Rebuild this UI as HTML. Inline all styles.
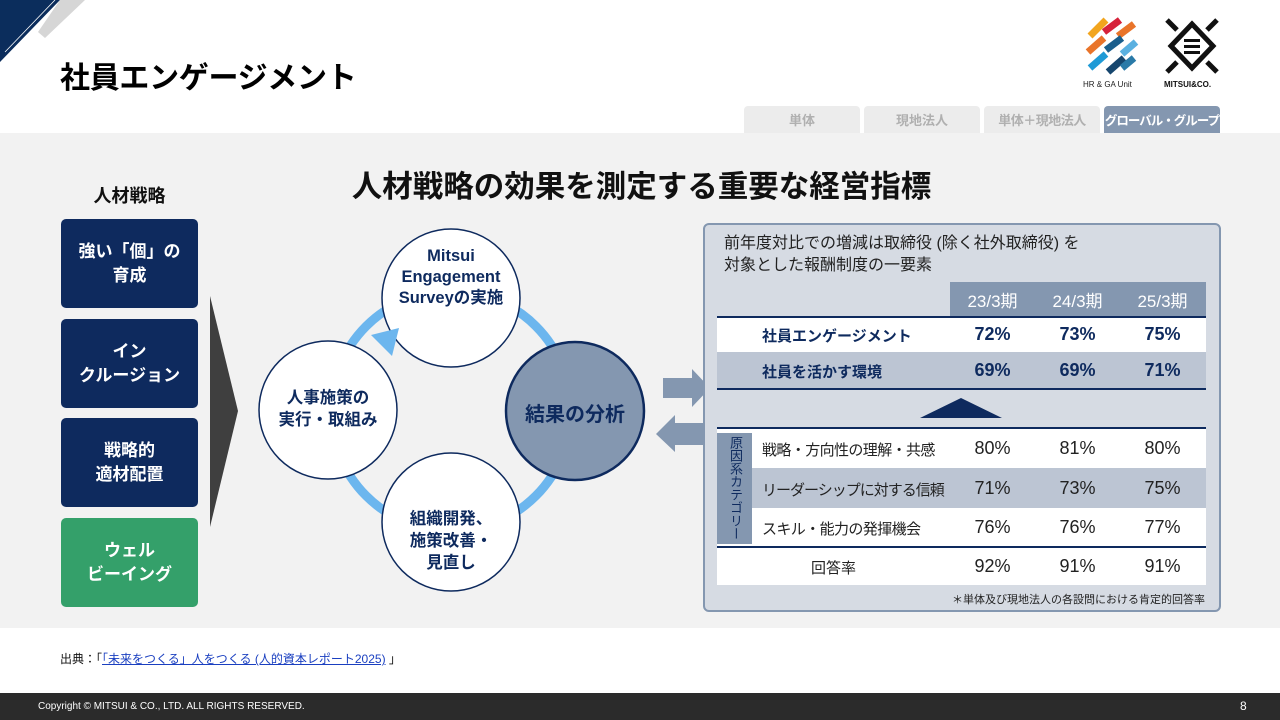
<!DOCTYPE html>
<html><head><meta charset="utf-8"><style>
*{margin:0;padding:0;box-sizing:border-box}
body{width:1280px;height:720px;position:relative;overflow:hidden;background:#fff;font-family:"Liberation Sans","Noto Sans CJK JP",sans-serif}
.a{position:absolute}
.c{display:flex;align-items:center;justify-content:center;text-align:center}
.box{position:absolute;left:61px;width:137px;height:89px;border-radius:5px;background:#0e2a5e;color:#fff;font-weight:bold;font-size:17px;line-height:24px}
.tab{position:absolute;top:106px;width:116px;height:27px;background:#ececec;color:#b0b0b0;font-weight:bold;font-size:13px;border-radius:4px 4px 0 0;white-space:nowrap}
.t{position:absolute;left:717px;width:489px;font-size:17px}
.cell{position:absolute;width:85px;text-align:center}
</style></head><body>
<svg class="a" style="left:0;top:0" width="90" height="70"><polygon points="0,0 60,0 0,62" fill="#0b2d5c"/><polygon points="60,0 85,0 45,38 38,32" fill="#d6d6d6"/><line x1="55" y1="0" x2="5" y2="52" stroke="#fff" stroke-width="0.8"/></svg>
<div class="a" style="left:60px;top:53px;font-size:30px;font-weight:bold;color:#000;letter-spacing:-0.3px">社員エンゲージメント</div>
<svg class="a" style="left:1082px;top:16px" width="60" height="60"><g stroke-width="7" stroke-linecap="butt"><line x1="8" y1="20" x2="24" y2="4" stroke="#f2a51e"/><line x1="22" y1="16" x2="38" y2="4" stroke="#d6213a"/><line x1="36" y1="20" x2="52" y2="8" stroke="#e9742a"/><line x1="6" y1="36" x2="22" y2="22" stroke="#e9742a"/><line x1="24" y1="34" x2="40" y2="22" stroke="#1a5e8c"/><line x1="40" y1="38" x2="54" y2="26" stroke="#5ab0e0"/><line x1="8" y1="52" x2="24" y2="38" stroke="#1e9ad6"/><line x1="26" y1="56" x2="42" y2="42" stroke="#16466e"/><line x1="40" y1="52" x2="52" y2="42" stroke="#2a7aa8"/></g></svg>
<div class="a" style="left:1083px;top:80px;font-size:8px;color:#222">HR &amp; GA Unit</div>
<svg class="a" style="left:1163px;top:16px" width="58" height="60"><g stroke="#111" stroke-width="5"><polygon points="29,8 50,30 29,52 8,30" fill="none"/><line x1="4" y1="4" x2="14" y2="14"/><line x1="54" y1="4" x2="44" y2="14"/><line x1="4" y1="56" x2="14" y2="46"/><line x1="54" y1="56" x2="44" y2="46"/></g><rect x="21" y="23" width="16" height="3" fill="#111"/><rect x="21" y="29" width="16" height="3" fill="#111"/><rect x="21" y="35" width="16" height="3" fill="#111"/></svg>
<div class="a" style="left:1164px;top:80px;font-size:8px;font-weight:bold;color:#111">MITSUI&amp;CO.</div>
<div class="tab c" style="left:744px">単体</div>
<div class="tab c" style="left:864px">現地法人</div>
<div class="tab c" style="left:984px;letter-spacing:-0.5px">単体＋現地法人</div>
<div class="tab c" style="left:1104px;background:#8497b0;color:#fff;font-size:12.5px;letter-spacing:-1px">グローバル・グループ</div>
<div class="a" style="left:0;top:133px;width:1280px;height:495px;background:#f2f2f2"></div>
<div class="a" style="left:0;top:162px;width:1280px;text-align:center;font-size:30.5px;font-weight:bold;color:#111;padding-left:3px">人材戦略の効果を測定する重要な経営指標</div>
<div class="a" style="left:61px;top:182px;width:137px;text-align:center;font-size:18px;font-weight:bold;color:#111">人材戦略</div>
<div class="box c" style="top:219px">強い「個」の<br>育成</div>
<div class="box c" style="top:319px">イン<br>クルージョン</div>
<div class="box c" style="top:418px">戦略的<br>適材配置</div>
<div class="box c" style="top:518px;background:#34a06a">ウェル<br>ビーイング</div>
<svg class="a" style="left:0;top:0" width="1280" height="720">
<polygon points="210,296 238,411 210,527" fill="#3f3f3f"/>
<circle cx="451" cy="411" r="120" fill="none" stroke="#6cb6ee" stroke-width="9"/>
<circle cx="451" cy="298" r="69" fill="#fff" stroke="#0e2a5e" stroke-width="1.5"/>
<circle cx="328" cy="410" r="69" fill="#fff" stroke="#0e2a5e" stroke-width="1.5"/>
<circle cx="451" cy="522" r="69" fill="#fff" stroke="#0e2a5e" stroke-width="1.5"/>
<circle cx="575" cy="411" r="69" fill="#8497b0" stroke="#0e2a5e" stroke-width="2.5"/>
<polygon points="399,328 371,335 392,356" fill="#6cb6ee"/>
<polygon points="663,378 692,378 692,369 710,388 692,407 692,398 663,398" fill="#8497b0"/>
<polygon points="703,423 675,423 675,415 656,434 675,452 675,445 703,445" fill="#8497b0"/>
</svg>
<div class="a c" style="left:382px;top:246px;width:138px;font-size:16.5px;font-weight:bold;color:#0e2a5e;line-height:21px">Mitsui<br>Engagement<br>Surveyの実施</div>
<div class="a c" style="left:259px;top:387px;width:138px;font-size:16.5px;font-weight:bold;color:#0e2a5e;line-height:22px">人事施策の<br>実行・取組み</div>
<div class="a c" style="left:382px;top:508px;width:138px;font-size:16.5px;font-weight:bold;color:#0e2a5e;line-height:22px">組織開発、<br>施策改善・<br>見直し</div>
<div class="a c" style="left:506px;top:398px;width:138px;font-size:20px;font-weight:bold;color:#0e2a5e">結果の分析</div>
<div class="a" style="left:703px;top:223px;width:518px;height:389px;background:#d6dbe3;border:2px solid #8497b0;border-radius:6px"></div>
<div class="a" style="left:724px;top:233px;font-size:16px;line-height:22px;color:#222">前年度対比での増減は取締役 (除く社外取締役) を<br>対象とした報酬制度の一要素</div>
<div class="a" style="left:950px;top:282px;width:256px;height:35px;background:#8497b0"></div>
<div class="cell" style="left:950px;top:287px;color:#fff;font-size:17px">23/3期</div>
<div class="cell" style="left:1035px;top:287px;color:#fff;font-size:17px">24/3期</div>
<div class="cell" style="left:1120px;top:287px;color:#fff;font-size:17px">25/3期</div>
<div class="t" style="top:316px;height:2px;background:#0e2a5e"></div>
<div class="t" style="top:318px;height:34px;background:#fff"></div>
<div class="t" style="top:352px;height:36px;background:#bcc5d3"></div>
<div class="t" style="top:388px;height:2px;background:#0e2a5e"></div>
<div class="a" style="left:762px;top:325px;font-size:15px;font-weight:bold;color:#0e2a5e">社員エンゲージメント</div>
<div class="a" style="left:762px;top:361px;font-size:15px;font-weight:bold;color:#0e2a5e">社員を活かす環境</div>
<div class="cell" style="left:950px;top:324px;font-size:18px;font-weight:bold;color:#0e2a5e">72%</div>
<div class="cell" style="left:1035px;top:324px;font-size:18px;font-weight:bold;color:#0e2a5e">73%</div>
<div class="cell" style="left:1120px;top:324px;font-size:18px;font-weight:bold;color:#0e2a5e">75%</div>
<div class="cell" style="left:950px;top:360px;font-size:18px;font-weight:bold;color:#0e2a5e">69%</div>
<div class="cell" style="left:1035px;top:360px;font-size:18px;font-weight:bold;color:#0e2a5e">69%</div>
<div class="cell" style="left:1120px;top:360px;font-size:18px;font-weight:bold;color:#0e2a5e">71%</div>
<svg class="a" style="left:918px;top:397px" width="86" height="22"><polygon points="43,1 84,21 2,21" fill="#0e2a5e"/></svg>
<div class="t" style="top:427px;height:2px;background:#0e2a5e"></div>
<div class="t" style="top:429px;height:39px;background:#fff"></div>
<div class="t" style="top:468px;height:40px;background:#bcc5d3"></div>
<div class="t" style="top:508px;height:39px;background:#fff"></div>
<div class="t" style="top:546px;height:2px;background:#0e2a5e"></div>
<div class="t" style="top:548px;height:37px;background:#fff"></div>
<div class="a" style="left:717px;top:433px;width:35px;height:111px;background:#8497b0"></div>
<div class="a" style="left:726px;top:436px;width:16px;font-size:13px;line-height:13.5px;color:#0e2a5e;writing-mode:vertical-rl">原因系カテゴリー</div>
<div class="a" style="left:762px;top:439px;font-size:15px;color:#222;letter-spacing:-0.6px">戦略・方向性の理解・共感</div>
<div class="a" style="left:762px;top:479px;font-size:15px;color:#222;letter-spacing:-1px">リーダーシップに対する信頼</div>
<div class="a" style="left:762px;top:518px;font-size:15px;color:#222;letter-spacing:-0.6px">スキル・能力の発揮機会</div>
<div class="a" style="left:717px;top:557px;width:233px;text-align:center;font-size:15px;color:#222">回答率</div>
<div class="cell" style="left:950px;top:438px;font-size:18px;color:#222">80%</div>
<div class="cell" style="left:1035px;top:438px;font-size:18px;color:#222">81%</div>
<div class="cell" style="left:1120px;top:438px;font-size:18px;color:#222">80%</div>
<div class="cell" style="left:950px;top:478px;font-size:18px;color:#222">71%</div>
<div class="cell" style="left:1035px;top:478px;font-size:18px;color:#222">73%</div>
<div class="cell" style="left:1120px;top:478px;font-size:18px;color:#222">75%</div>
<div class="cell" style="left:950px;top:517px;font-size:18px;color:#222">76%</div>
<div class="cell" style="left:1035px;top:517px;font-size:18px;color:#222">76%</div>
<div class="cell" style="left:1120px;top:517px;font-size:18px;color:#222">77%</div>
<div class="cell" style="left:950px;top:556px;font-size:18px;color:#222">92%</div>
<div class="cell" style="left:1035px;top:556px;font-size:18px;color:#222">91%</div>
<div class="cell" style="left:1120px;top:556px;font-size:18px;color:#222">91%</div>
<div class="a" style="left:900px;top:591px;width:305px;text-align:right;font-size:11px;color:#222">＊単体及び現地法人の各設問における肯定的回答率</div>
<div class="a" style="left:60px;top:650px;font-size:12px;color:#111">出典：「<span style="color:#1a3fc0;text-decoration:underline">「未来をつくる」人をつくる (人的資本レポート2025)</span> 」</div>
<div class="a" style="left:0;top:693px;width:1280px;height:27px;background:#2b2b2b"></div>
<div class="a" style="left:38px;top:701px;font-size:10px;color:#fff">Copyright © MITSUI &amp; CO., LTD. ALL RIGHTS RESERVED.</div>
<div class="a" style="left:1240px;top:699px;font-size:12px;color:#fff">8</div>
</body></html>
